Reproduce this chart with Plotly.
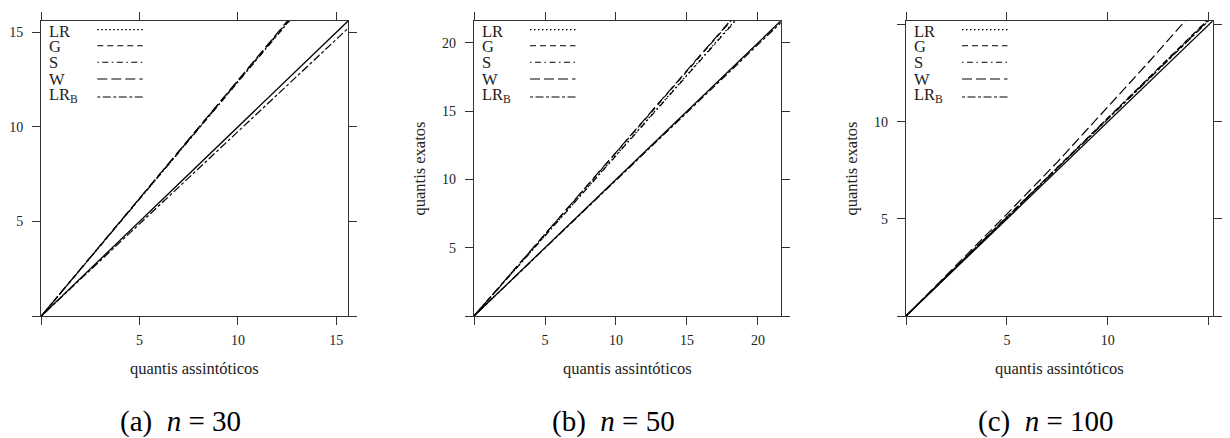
import plotly.graph_objects as go

W, H = 1230, 438

series_names = ["LR", "G", "S", "W", "LR<sub>B</sub>"]
series_dash = ["1.5px,2.5px", "6px,4px", "1.5px,3.5px,6px,3.5px", "10px,4px", "3px,2.5px,8px,2.5px"]

# Panel (a) n = 30
asym_a = [0, 2, 4, 6, 8, 10, 12, 14, 16]
exact_a = {
    "LR":  [0, 2.47, 4.95, 7.44, 9.92, 12.39, 14.87, 17.34, 19.82],
    "G":   [0, 2.48, 4.97, 7.46, 9.95, 12.43, 14.91, 17.40, 19.88],
    "S":   [0, 2.46, 4.94, 7.42, 9.90, 12.37, 14.84, 17.31, 19.78],
    "W":   [0, 2.49, 4.99, 7.49, 9.98, 12.47, 14.96, 17.45, 19.94],
    "LRB": [0, 1.95, 3.90, 5.85, 7.80, 9.75, 11.70, 13.65, 15.60],
}
limit_a = 15.6
ticks_a = [5, 10, 15]          # labelled ticks
unlabelled_a = [0]             # ticks drawn without a label

# Panel (b) n = 50
asym_b = [0, 3, 6, 9, 12, 15, 18, 21, 22]
exact_b = {
    "LR":  [0, 3.54, 7.08, 10.62, 14.14, 17.66, 21.18, 24.70, 25.90],
    "G":   [0, 3.60, 7.19, 10.78, 14.36, 17.93, 21.50, 25.07, 26.30],
    "S":   [0, 3.53, 7.06, 10.59, 14.11, 17.62, 21.13, 24.65, 25.80],
    "W":   [0, 3.61, 7.21, 10.81, 14.40, 17.98, 21.56, 25.14, 26.30],
    "LRB": [0, 2.98, 5.96, 8.94, 11.92, 14.90, 17.88, 20.86, 21.86],
}
limit_b = 21.6
ticks_b = [5, 10, 15, 20]
unlabelled_b = [0]

# Panel (c) n = 100
asym_c = [0, 2.5, 5, 7.5, 9, 10.5, 12, 14, 15.5]
exact_c = {
    "LR":  [0, 2.54, 5.08, 7.62, 9.15, 10.68, 12.21, 14.25, 15.80],
    "G":   [0, 2.55, 5.09, 7.64, 9.17, 10.70, 12.23, 14.27, 15.82],
    "S":   [0, 2.54, 5.07, 7.61, 9.14, 10.66, 12.19, 14.22, 15.76],
    "W":   [0, 2.62, 5.25, 7.93, 9.62, 11.32, 13.05, 15.40, 17.10],
    "LRB": [0, 2.53, 5.07, 7.60, 9.12, 10.64, 12.16, 14.19, 15.72],
}
limit_c = 15.2
ticks_c = [5, 10]
unlabelled_c = [0, 15]

captions = ["(a)&nbsp;&nbsp;<i>n</i>&nbsp;=&nbsp;30", "(b)&nbsp;&nbsp;<i>n</i>&nbsp;=&nbsp;50",
            "(c)&nbsp;&nbsp;<i>n</i>&nbsp;=&nbsp;100"]
xtitle = "quantis assintóticos"
ytitle = "quantis exatos"

SERIF = "Liberation Serif"
AX = "#333333"

panels = [
    (asym_a, exact_a, limit_a, ticks_a, unlabelled_a),
    (asym_b, exact_b, limit_b, ticks_b, unlabelled_b),
    (asym_c, exact_c, limit_c, ticks_c, unlabelled_c),
]
box_left_px = [41.3, 474.0, 906.0]
box_width_px = 306.7
box_top_px, box_bottom_px = 21.0, 316.0

fig = go.Figure()
layout = dict(
    width=W, height=H, margin=dict(l=0, r=0, t=0, b=0),
    paper_bgcolor="white", plot_bgcolor="white", showlegend=False,
    font=dict(family=SERIF, color="#222"),
)
shapes = []
annotations = []
keys = ["LR", "G", "S", "W", "LRB"]

for i, (xs, ys, lim, tv, tv0) in enumerate(panels):
    sfx = "" if i == 0 else str(i + 1)
    xa, ya = "x" + sfx, "y" + sfx
    # reference diagonal
    fig.add_trace(go.Scatter(x=[0, lim], y=[0, lim], mode="lines", xaxis=xa, yaxis=ya,
                             line=dict(color="black", width=1.3)))
    for k, d in zip(keys, series_dash):
        fig.add_trace(go.Scatter(x=xs, y=ys[k], mode="lines", xaxis=xa, yaxis=ya,
                                 line=dict(color="black", width=1.2, dash=d)))
    x0 = box_left_px[i] / W
    x1 = (box_left_px[i] + box_width_px) / W
    y0 = 1 - box_bottom_px / H
    y1 = 1 - box_top_px / H
    common = dict(range=[0, lim], tickmode="array", tickvals=tv,
                  ticktext=[str(v) for v in tv], showline=True, linecolor=AX,
                  linewidth=1.3, mirror="ticks", ticks="outside", ticklen=8, tickwidth=1.1,
                  tickcolor=AX, showgrid=False, zeroline=False, automargin=False,
                  minor=dict(tickmode="array", tickvals=tv0, ticks="outside", ticklen=8,
                             tickwidth=1.1, tickcolor=AX, showgrid=False),
                  tickfont=dict(family=SERIF, size=14, color="#222"), fixedrange=True)
    layout["xaxis" + sfx] = dict(common, domain=[x0, x1], anchor=ya, ticklabelstandoff=3)
    layout["yaxis" + sfx] = dict(common, domain=[y0, y1], anchor=xa, ticklabelstandoff=6)

    # legend (text on the left, line sample on the right, as in the original key)
    row_text_y = [31, 46.3, 62.6, 79, 95.2]
    row_line_y = [29.6, 45.7, 62.3, 79, 97.0]
    for j, (name, d) in enumerate(zip(series_names, series_dash)):
        annotations.append(dict(text=name, xref="paper", yref="paper",
                                x=(box_left_px[i] + 7) / W, y=1 - row_text_y[j] / H,
                                xanchor="left", yanchor="middle", showarrow=False,
                                borderpad=0,
                                font=dict(family=SERIF, size=16.5, color="#222")))
        shapes.append(dict(type="line", xref="paper", yref="paper",
                           x0=(box_left_px[i] + 56) / W, x1=(box_left_px[i] + 101.5) / W,
                           y0=1 - row_line_y[j] / H, y1=1 - row_line_y[j] / H,
                           line=dict(color="black", width=1.1, dash=d)))
    # axis titles
    cx = (box_left_px[i] + box_width_px / 2) / W
    annotations.append(dict(text=xtitle, xref="paper", yref="paper", x=cx, y=1 - 368 / H,
                            xanchor="center", yanchor="middle", showarrow=False,
                            font=dict(family=SERIF, size=16.5, color="#222")))
    if i > 0:
        annotations.append(dict(text=ytitle, xref="paper", yref="paper",
                                x=(box_left_px[i] - 55) / W, y=1 - 168.5 / H,
                                xanchor="center", yanchor="middle", textangle=-90,
                                showarrow=False,
                                font=dict(family=SERIF, size=16.5, color="#222")))

caption_x = [180.5, 613, 1046]
for i, cap in enumerate(captions):
    annotations.append(dict(text=cap, xref="paper", yref="paper", x=caption_x[i] / W,
                            y=1 - 421 / H, xanchor="center", yanchor="middle",
                            showarrow=False, font=dict(family=SERIF, size=29, color="black")))

layout["shapes"] = shapes
layout["annotations"] = annotations
fig.update_layout(**layout)
fig.write_html("out.html")
